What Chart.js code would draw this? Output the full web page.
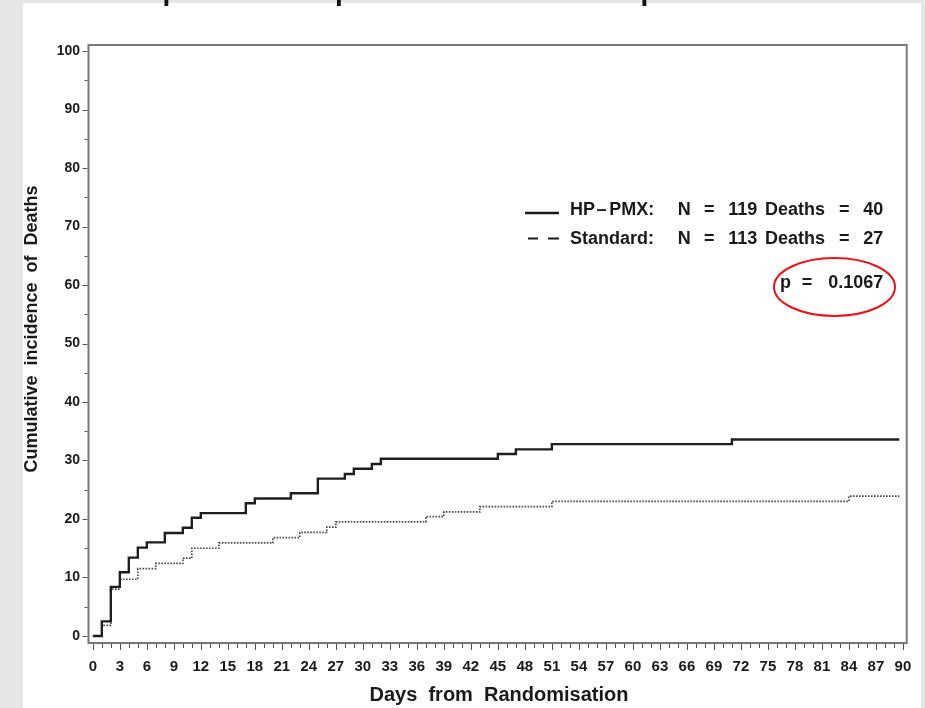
<!DOCTYPE html>
<html>
<head>
<meta charset="utf-8">
<script src="https://cdn.jsdelivr.net/npm/chart.js@4/dist/chart.umd.min.js"></script>
<style>
html,body{margin:0;padding:0;background:#e6e6e6;}
canvas{display:block;}
</style>
</head>
<body>
<canvas id="c" width="925" height="708"></canvas>
<script>
// ---- data ----
const hpDays      = [0, 1, 2, 3, 4, 5, 6, 8, 10, 11, 12, 17, 18, 22, 25, 28, 29, 31, 32, 45, 47, 51, 71, 89.6];
const hpIncidence = [0, 2.5, 8.4, 10.9, 13.4, 15.1, 16.0, 17.6, 18.5, 20.2, 21.0, 22.7, 23.5, 24.4, 26.9, 27.7, 28.6, 29.4, 30.3, 31.1, 31.9, 32.8, 33.6, 33.6];

const stdDays      = [0, 1, 2, 3, 5, 7, 10, 11, 14, 20, 23, 26, 27, 37, 39, 43, 51, 84, 89.6];
const stdIncidence = [0, 1.8, 8.0, 9.7, 11.5, 12.4, 13.3, 15.0, 15.9, 16.8, 17.7, 18.6, 19.5, 20.4, 21.2, 22.1, 23.0, 23.9, 23.9];

const xTickValues = [0, 3, 6, 9, 12, 15, 18, 21, 24, 27, 30, 33, 36, 39, 42, 45, 48, 51, 54, 57, 60, 63, 66, 69, 72, 75, 78, 81, 84, 87, 90];
const yTickValues = [0, 10, 20, 30, 40, 50, 60, 70, 80, 90, 100];

const seriesNames = ['HP\u2013PMX', 'Standard'];
const legendRow1 = ['HP', '\u2013', 'PMX:', 'N', '=', '119', 'Deaths', '=', '40'];
const legendRow2 = ['Standard:', 'N', '=', '113', 'Deaths', '=', '27'];
const pValueRow  = ['p', '=', '0.1067'];

const xTitle = 'Days  from  Randomisation';
const yTitle = 'Cumulative  incidence  of  Deaths';

// ---- chart ----
const FONT = '"Liberation Sans", Arial, Helvetica, sans-serif';
const toPoints = (xs, ys) => xs.map((d, i) => ({x: d, y: ys[i]}));

const decor = {
  id: 'decor',
  beforeDraw(chart) {
    const ctx = chart.ctx;
    ctx.save();
    ctx.fillStyle = '#e6e6e6';
    ctx.fillRect(0, 0, chart.width, chart.height);
    ctx.fillStyle = '#ffffff';
    ctx.fillRect(23, 3, 898, 705);
    ctx.restore();
  },
  afterDraw(chart) {
    const ctx = chart.ctx;
    const a = chart.chartArea;
    const x = chart.scales.x, y = chart.scales.y;
    ctx.save();
    // frame
    ctx.strokeStyle = '#787878';
    ctx.lineWidth = 2;
    ctx.strokeRect(a.left, a.top, a.right - a.left, a.bottom - a.top);
    // tick marks
    ctx.strokeStyle = '#555';
    ctx.lineWidth = 1;
    for (let d = 0; d <= 90; d++) {
      const px = Math.round(x.getPixelForValue(d)) + 0.5;
      const len = d % 3 === 0 ? 6 : 4;
      ctx.beginPath(); ctx.moveTo(px, a.bottom + 1); ctx.lineTo(px, a.bottom + 1 + len); ctx.stroke();
    }
    for (let v = 0; v <= 100; v += 5) {
      const py = Math.round(y.getPixelForValue(v)) + 0.5;
      const len = v % 10 === 0 ? 5 : 3;
      ctx.beginPath(); ctx.moveTo(a.left - 1 - len, py); ctx.lineTo(a.left - 1, py); ctx.stroke();
    }
    // axis titles
    ctx.fillStyle = '#1a1a1a';
    ctx.font = 'bold 20px ' + FONT;
    ctx.textAlign = 'center';
    ctx.textBaseline = 'middle';
    ctx.fillText(xTitle, 499, 695);
    ctx.save();
    ctx.translate(32, 329);
    ctx.rotate(-Math.PI / 2);
    ctx.font = 'bold 18px ' + FONT;
    ctx.fillText(yTitle, 0, 0);
    ctx.restore();

    // legend
    ctx.font = 'bold 18px ' + FONT;
    ctx.textAlign = 'left';
    ctx.textBaseline = 'middle';
    const row1X = [570, 596.5, 609.3, 677.7, 704, 728.3, 765, 839, 863.3];
    legendRow1.forEach((t, i) => ctx.fillText(t, row1X[i], 210));
    const row2X = [570, 677.7, 704, 728.3, 765, 839, 863.3];
    legendRow2.forEach((t, i) => ctx.fillText(t, row2X[i], 239));
    const row3X = [780, 801.7, 828.3];
    pValueRow.forEach((t, i) => ctx.fillText(t, row3X[i], 283));
    // legend line samples
    ctx.strokeStyle = '#1a1a1a';
    ctx.lineWidth = 2.6;
    ctx.beginPath(); ctx.moveTo(525, 213); ctx.lineTo(559, 213); ctx.stroke();
    ctx.lineWidth = 2;
    ctx.beginPath(); ctx.moveTo(528, 238.5); ctx.lineTo(538, 238.5); ctx.moveTo(548, 238.5); ctx.lineTo(559, 238.5); ctx.stroke();
    // red ellipse around p value
    ctx.strokeStyle = '#e3141c';
    ctx.lineWidth = 2;
    ctx.beginPath(); ctx.ellipse(834.5, 287, 60.5, 29, 0, 0, Math.PI * 2); ctx.stroke();

    // descenders of the cropped title above
    ctx.fillStyle = '#111';
    ctx.font = 'bold 28px ' + FONT;
    ctx.textBaseline = 'alphabetic';
    [162.5, 335, 640.5].forEach(px => ctx.fillText('p', px, -0.5));
    ctx.restore();
  }
};

new Chart(document.getElementById('c'), {
  type: 'line',
  data: {
    datasets: [
      {
        label: seriesNames[0],
        data: toPoints(hpDays, hpIncidence),
        stepped: 'before',
        borderColor: '#1e1e1e',
        borderWidth: 2.4,
        pointRadius: 0,
        fill: false
      },
      {
        label: seriesNames[1],
        data: toPoints(stdDays, stdIncidence),
        stepped: 'before',
        borderColor: '#4a4a4a',
        borderWidth: 1.7,
        borderDash: [1.6, 1.4],
        pointRadius: 0,
        fill: false
      }
    ]
  },
  options: {
    responsive: false,
    devicePixelRatio: 1,
    animation: false,
    layout: { padding: { top: 45, right: 18.3, left: 0, bottom: 0 } },
    plugins: { legend: { display: false }, tooltip: { enabled: false }, title: { display: false } },
    scales: {
      x: {
        type: 'linear',
        min: -0.48,
        max: 90.42,
        afterFit: s => { s.height = 65; },
        afterBuildTicks: s => { s.ticks = xTickValues.map(v => ({value: v})); },
        grid: { display: false, drawTicks: true, tickLength: 6 },
        border: { display: false },
        ticks: {
          autoSkip: false,
          maxRotation: 0,
          padding: 8.5,
          color: '#1a1a1a',
          font: { family: FONT, size: 15, weight: 'bold' },
          callback: v => String(v)
        }
      },
      y: {
        type: 'linear',
        min: -1.2,
        max: 101.03,
        afterFit: s => { s.width = 88.5; },
        afterBuildTicks: s => { s.ticks = yTickValues.map(v => ({value: v})); },
        grid: { display: false, drawTicks: true, tickLength: 5 },
        border: { display: false },
        ticks: {
          padding: 3.5,
          color: '#1a1a1a',
          font: { family: FONT, size: 14, weight: 'bold' },
          callback: v => String(v)
        }
      }
    }
  },
  plugins: [decor]
});
</script>
</body>
</html>
